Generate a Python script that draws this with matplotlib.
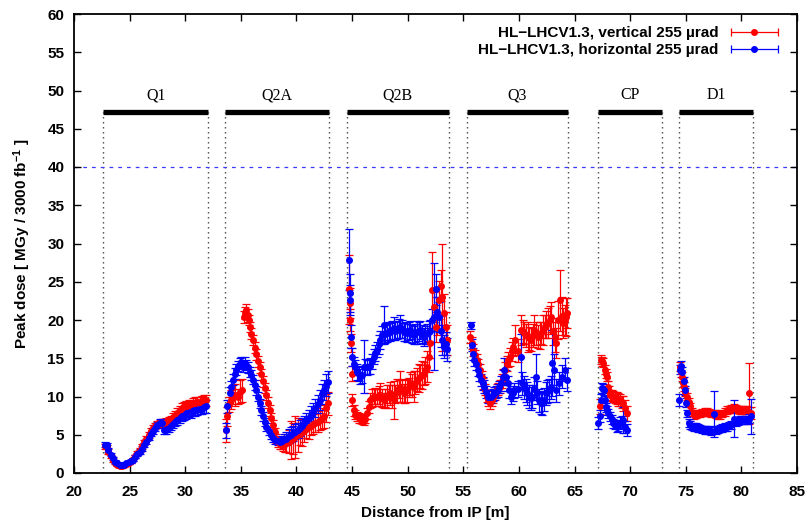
import matplotlib
matplotlib.use("Agg")
import matplotlib.pyplot as plt
from matplotlib.legend_handler import HandlerErrorbar
import numpy as np

plt.rcParams['font.family'] = ['Liberation Sans', 'DejaVu Sans']
plt.rcParams['font.weight'] = 'bold'
plt.rcParams['axes.labelweight'] = 'bold'
plt.rcParams['mathtext.fontset'] = 'custom'
plt.rcParams['mathtext.rm'] = 'Liberation Sans:bold'
plt.rcParams['mathtext.bf'] = 'Liberation Sans:bold'
plt.rcParams['mathtext.default'] = 'bf'

# ---------------- data ----------------
magnets = ["Q1", "Q2A", "Q2B", "Q3", "CP", "D1"]
mag_start = [22.65, 33.6, 44.5, 55.3, 67.15, 74.4]
mag_end = [32.05, 42.9, 53.7, 64.45, 72.9, 81.05]
mag_level = 47.2
dose_limit = 40

label_vert = "HL\u2212LHCV1.3, vertical 255 \u00b5rad"
label_horiz = "HL\u2212LHCV1.3, horizontal 255 \u00b5rad"

# vertical crossing (red)
vert_x = [
    # Q1
    22.8, 22.95, 23.1, 23.3, 23.5, 23.7, 23.9, 24.1, 24.3, 24.5, 24.7, 24.9, 25.1, 25.3, 25.5,
    25.7, 25.9, 26.1, 26.3, 26.5, 26.7, 26.9, 27.1, 27.3, 27.5, 27.7, 27.9, 28.1, 28.3, 28.5,
    28.7, 28.9, 29.1, 29.3, 29.5, 29.7, 29.9, 30.1, 30.3, 30.5, 30.7, 30.9, 31.1, 31.3, 31.5,
    31.7, 31.9,
    # Q2A
    33.65, 33.75, 33.9, 34.1, 34.3, 34.5, 34.7, 34.9, 35.1, 35.3, 35.4, 35.5, 35.6, 35.7, 35.8,
    35.95, 36.1, 36.25, 36.4, 36.55, 36.7, 36.85, 37.0, 37.15, 37.3, 37.45, 37.6, 37.75, 37.9,
    38.05, 38.2, 38.35, 38.5, 38.65, 38.8, 38.95, 39.1, 39.3, 39.5, 39.7, 39.9, 40.1, 40.3, 40.5,
    40.7, 40.9, 41.1, 41.3, 41.5, 41.7, 41.9, 42.1, 42.3, 42.5, 42.7, 42.85,
    # Q2B
    44.7, 44.78, 44.85, 44.9, 44.95, 45.0, 45.15, 45.3, 45.45, 45.6, 45.75, 45.9, 46.05, 46.2,
    46.35, 46.5, 46.65, 46.8, 46.95, 47.1, 47.25, 47.4, 47.55, 47.7, 47.85, 48.0, 48.15, 48.3,
    48.45, 48.6, 48.75, 48.9, 49.05, 49.2, 49.35, 49.5, 49.65, 49.8, 49.95, 50.1, 50.25, 50.4,
    50.55, 50.7, 50.85, 51.0, 51.15, 51.3, 51.45, 51.6, 51.75, 51.9, 52.05, 52.2, 52.35, 52.5,
    52.65, 52.8, 52.95, 53.1, 53.25, 53.4, 53.55,
    # Q3
    55.6, 55.75, 55.9, 56.05, 56.2, 56.35, 56.5, 56.65, 56.8, 56.95, 57.1, 57.25, 57.4, 57.55,
    57.7, 57.85, 58.0, 58.15, 58.3, 58.45, 58.6, 58.75, 58.9, 59.05, 59.2, 59.35, 59.5, 59.65,
    59.9, 60.2, 60.35, 60.5, 60.65, 60.8, 60.95, 61.1, 61.25, 61.4, 61.55, 61.7, 61.85, 62.0,
    62.15, 62.3, 62.45, 62.6, 62.75, 62.9, 63.05, 63.2, 63.35, 63.5, 63.7, 63.85, 64.0, 64.1,
    64.2, 64.35,
    # CP
    67.3, 67.4, 67.5, 67.6, 67.7, 67.8, 67.9, 68.0, 68.1, 68.2, 68.35, 68.5, 68.65, 68.8, 68.95,
    69.1, 69.25, 69.4, 69.55, 69.7,
    # D1
    74.45, 74.55, 74.65, 74.75, 74.85, 74.95, 75.1, 75.25, 75.4, 75.55, 75.7, 75.9, 76.1, 76.3,
    76.5, 76.7, 76.9, 77.1, 77.3, 77.5, 77.7, 77.9, 78.1, 78.3, 78.5, 78.7, 78.9, 79.1, 79.3,
    79.5, 79.7, 79.9, 80.1, 80.3, 80.5, 80.7, 80.9,
]
vert_y = [
    # Q1
    3.5, 3.4, 2.8, 2.2, 1.7, 1.35, 1.1, 0.95, 0.9, 1.0, 1.15, 1.35, 1.55, 1.8, 2.2,
    2.6, 3.0, 3.5, 4.0, 4.5, 5.0, 5.5, 5.9, 6.2, 6.4, 6.4, 6.5, 6.6, 6.7, 6.8,
    7.0, 7.3, 7.6, 7.9, 8.2, 8.5, 8.7, 8.8, 8.9, 9.0, 9.1, 9.2, 9.3, 9.3, 9.4,
    9.5, 9.5,
    # Q2A
    5.6, 7.4, 9.0, 9.6, 10.0, 10.2, 10.0, 10.6, 10.8, 20.4, 20.9, 21.3, 20.6, 20.0, 19.1,
    18.2, 17.4, 16.4, 15.5, 14.6, 13.8, 12.9, 12.0, 11.1, 10.2, 9.2, 8.2, 7.2, 6.3,
    5.3, 4.5, 4.0, 3.8, 3.7, 3.7, 3.8, 3.9, 4.1, 4.3, 4.5, 4.7, 5.0, 5.1, 5.3,
    5.5, 5.8, 6.0, 6.2, 6.4, 6.5, 6.7, 6.9, 7.1, 7.4, 8.5, 9.1,
    # Q2B
    24.0, 22.2, 20.0, 17.0, 13.0, 9.5, 8.2, 7.6, 7.4, 7.2, 7.1, 7.0, 6.9, 7.1,
    7.8, 8.6, 9.5, 9.8, 10.0, 9.9, 10.0, 10.2, 10.2, 9.8, 9.5, 9.8, 10.0, 10.3,
    10.4, 10.0, 9.5, 10.3, 10.8, 11.0, 11.3, 10.8, 10.4, 10.6, 10.8, 11.2, 11.7, 11.5,
    11.3, 11.8, 12.2, 12.4, 12.6, 12.8, 13.0, 13.4, 13.9, 15.2, 17.0, 23.9, 21.7, 19.1,
    20.5, 22.6, 24.5, 23.0, 20.9, 19.1, 17.4,
    # Q3
    17.8, 17.0, 16.1, 15.4, 14.8, 14.2, 13.5, 12.6, 11.7, 10.9, 10.0, 9.5, 9.1, 9.5,
    10.0, 10.4, 10.8, 11.0, 11.3, 12.0, 12.6, 13.5, 14.3, 14.8, 15.2, 15.9, 16.5, 17.4,
    16.0, 18.7, 18.5, 18.3, 18.0, 17.8, 17.6, 17.4, 18.0, 18.7, 18.2, 17.8, 18.0, 18.3,
    18.7, 19.1, 19.4, 19.6, 20.0, 20.4, 18.5, 17.8, 17.0, 20.0, 22.6, 20.5, 19.6, 20.0,
    20.4, 20.9,
    # CP
    8.7, 14.8, 14.6, 14.4, 13.5, 13.0, 12.6, 11.3, 10.7, 10.2, 10.1, 10.0, 9.9, 9.8, 9.6,
    9.5, 9.3, 9.1, 8.5, 7.8,
    # D1
    13.9, 13.2, 12.6, 11.8, 11.3, 10.6, 10.0, 9.3, 8.7, 8.0, 7.6, 7.7, 7.8, 7.8,
    7.9, 8.0, 8.0, 7.9, 7.8, 7.8, 7.7, 7.6, 7.6, 7.8, 8.0, 8.2, 8.3, 8.4, 8.5,
    8.4, 8.3, 8.2, 8.2, 8.2, 8.2, 10.4, 7.8,
]
vert_err = [
    # Q1
    0.3, 0.3, 0.3, 0.2, 0.2, 0.2, 0.2, 0.2, 0.2, 0.2, 0.2, 0.2, 0.2, 0.2, 0.2,
    0.3, 0.3, 0.3, 0.3, 0.3, 0.4, 0.4, 0.4, 0.4, 0.4, 0.5, 0.5, 0.5, 0.5, 0.5,
    0.5, 0.5, 0.5, 0.6, 0.6, 0.6, 0.6, 0.6, 0.6, 0.6, 0.7, 0.7, 0.7, 0.7, 0.7,
    0.7, 0.7,
    # Q2A
    1.5, 1.2, 1.0, 1.2, 1.0, 1.4, 1.0, 1.5, 1.5, 0.8, 0.8, 0.8, 0.8, 0.7, 0.7,
    0.7, 0.7, 0.7, 0.7, 0.7, 0.7, 0.7, 0.7, 0.7, 0.7, 0.7, 0.7, 0.6, 0.6,
    0.6, 0.6, 0.6, 0.6, 0.6, 0.8, 1.0, 1.2, 1.5, 2.5, 2.0, 2.8, 2.2, 1.5, 1.8,
    1.5, 1.2, 1.5, 1.2, 1.3, 1.2, 1.4, 1.3, 1.4, 1.5, 1.8, 1.5,
    # Q2B
    4.5, 2.0, 1.5, 1.2, 1.0, 0.8, 0.7, 0.6, 0.6, 0.6, 0.6, 0.6, 0.6, 0.6,
    0.7, 0.8, 1.0, 1.2, 1.0, 1.2, 1.0, 1.2, 1.5, 1.2, 1.0, 1.2, 1.5, 1.2,
    1.5, 1.5, 2.5, 1.2, 1.5, 1.2, 2.0, 1.5, 1.2, 1.5, 1.5, 1.2, 1.5, 1.5,
    2.0, 1.5, 1.5, 1.8, 1.5, 1.8, 1.5, 1.8, 2.0, 2.0, 2.0, 5.0, 2.0, 2.0,
    2.5, 2.5, 2.0, 7.0, 2.5, 2.0, 2.0,
    # Q3
    0.8, 0.8, 0.8, 0.7, 0.7, 0.7, 0.7, 0.7, 0.7, 0.7, 0.7, 0.7, 0.7, 0.7,
    0.8, 0.8, 0.8, 0.8, 0.9, 0.9, 1.0, 1.0, 1.0, 1.0, 1.2, 1.2, 1.2, 2.0,
    1.5, 2.0, 1.5, 1.5, 1.5, 2.0, 1.5, 1.5, 1.5, 2.0, 1.5, 1.5, 1.8, 1.5,
    2.0, 1.5, 1.8, 2.0, 1.8, 2.0, 1.8, 2.0, 2.0, 2.5, 4.0, 2.5, 2.0, 2.0,
    2.5, 2.0,
    # CP
    1.0, 0.6, 0.6, 0.6, 0.6, 0.6, 0.6, 0.7, 0.7, 0.7, 0.7, 0.7, 0.7, 0.8, 0.8,
    0.8, 0.8, 1.0, 1.0, 1.0,
    # D1
    0.6, 0.6, 0.6, 0.6, 0.6, 0.5, 0.5, 0.5, 0.5, 0.5, 0.5, 0.5, 0.5, 0.5,
    0.5, 0.5, 0.5, 0.5, 0.5, 0.5, 0.5, 0.5, 0.5, 0.5, 0.5, 0.5, 0.5, 0.5, 0.5,
    0.5, 0.5, 0.5, 0.5, 0.5, 0.5, 4.0, 0.8,
]

# horizontal crossing (blue)
horiz_x = [
    # Q1
    22.8, 22.95, 23.1, 23.3, 23.5, 23.7, 23.9, 24.1, 24.3, 24.5, 24.7, 24.9, 25.1, 25.3, 25.5,
    25.7, 25.9, 26.1, 26.3, 26.5, 26.7, 26.9, 27.1, 27.3, 27.5, 27.7, 27.9, 28.1, 28.3, 28.5,
    28.7, 28.9, 29.1, 29.3, 29.5, 29.7, 29.9, 30.1, 30.3, 30.5, 30.7, 30.9, 31.1, 31.3, 31.5,
    31.7, 31.9,
    # Q2A
    33.7, 33.8, 34.0, 34.15, 34.3, 34.45, 34.6, 34.75, 34.9, 35.05, 35.2, 35.35, 35.5, 35.65,
    35.8, 35.95, 36.1, 36.25, 36.4, 36.55, 36.7, 36.85, 37.0, 37.15, 37.3, 37.5, 37.7, 37.9,
    38.1, 38.3, 38.5, 38.7, 38.9, 39.1, 39.3, 39.5, 39.7, 39.9, 40.1, 40.3, 40.5, 40.7, 40.9,
    41.1, 41.3, 41.5, 41.7, 41.9, 42.1, 42.3, 42.5, 42.7, 42.85,
    # Q2B
    44.75, 44.8, 44.85, 44.9, 45.0, 45.15, 45.3, 45.45, 45.6, 45.75, 45.9, 46.05, 46.2, 46.35,
    46.5, 46.65, 46.8, 46.95, 47.1, 47.25, 47.4, 47.55, 47.7, 47.85, 48.0, 48.15, 48.3, 48.45,
    48.6, 48.75, 48.9, 49.05, 49.2, 49.35, 49.5, 49.65, 49.8, 49.95, 50.1, 50.25, 50.4, 50.55,
    50.7, 50.85, 51.0, 51.15, 51.3, 51.45, 51.6, 51.75, 51.9, 52.05, 52.2, 52.35, 52.5, 52.65,
    52.8, 52.95, 53.1, 53.25, 53.4, 53.55,
    # Q3
    55.7, 55.75, 55.9, 56.0, 56.15, 56.3, 56.45, 56.6, 56.75, 56.9, 57.05, 57.2, 57.35, 57.5,
    57.65, 57.8, 57.95, 58.1, 58.25, 58.4, 58.55, 58.7, 58.85, 59.0, 59.15, 59.3, 59.45, 59.6,
    59.9, 60.2, 60.3, 60.45, 60.6, 60.75, 60.9, 61.05, 61.2, 61.35, 61.5, 61.65, 61.8, 61.95,
    62.1, 62.25, 62.4, 62.55, 62.7, 62.85, 63.0, 63.15, 63.3, 63.6, 63.9, 64.1, 64.3,
    # CP
    67.15, 67.25, 67.35, 67.45, 67.55, 67.65, 67.75, 67.85, 67.95, 68.05, 68.2, 68.35, 68.5,
    68.65, 68.8, 68.95, 69.1, 69.25, 69.4, 69.55, 69.7,
    # D1
    74.4, 74.5, 74.6, 74.7, 74.8, 74.9, 75.0, 75.1, 75.25, 75.4, 75.55, 75.7, 75.9, 76.1,
    76.3, 76.5, 76.7, 76.9, 77.1, 77.3, 77.55, 77.7, 77.9, 78.1, 78.3, 78.5, 78.7, 78.9,
    79.1, 79.35, 79.5, 79.7, 79.9, 80.1, 80.3, 80.5, 80.7, 80.9,
]
horiz_y = [
    # Q1
    3.7, 3.6, 3.0, 2.4, 1.9, 1.5, 1.25, 1.05, 1.0, 1.1, 1.25, 1.4, 1.55, 1.75, 2.1,
    2.45, 2.8, 3.2, 3.65, 4.1, 4.6, 5.1, 5.5, 5.9, 6.3, 6.6, 6.5, 5.6, 5.6, 5.9,
    6.1, 6.4, 6.7, 6.9, 7.2, 7.4, 7.5, 7.7, 7.9, 7.9, 8.1, 8.2, 8.3, 8.4, 8.4,
    8.6, 8.7,
    # Q2A
    5.6, 8.7, 10.4, 11.3, 12.2, 13.0, 13.5, 14.0, 14.3, 14.5, 13.9, 14.4, 14.1, 13.8,
    13.2, 12.8, 12.2, 11.5, 10.8, 10.0, 9.1, 8.2, 7.4, 6.7, 6.05, 5.5, 5.0, 4.6,
    4.3, 4.2, 4.1, 4.2, 4.4, 4.5, 4.8, 5.0, 5.2, 5.4, 5.6, 5.9, 6.2, 6.5, 6.9,
    7.2, 7.6, 8.0, 8.5, 9.0, 9.6, 10.3, 10.9, 11.5, 11.9,
    # Q2B
    27.9, 23.5, 22.6, 17.8, 15.2, 14.2, 13.8, 13.2, 13.0, 12.6, 12.8, 13.9, 13.9, 13.8,
    13.9, 14.0, 14.6, 15.2, 15.7, 16.1, 16.8, 17.4, 18.0, 19.3, 18.2, 18.3, 18.6, 18.4,
    18.7, 18.9, 18.6, 18.7, 18.9, 19.1, 18.8, 18.4, 18.5, 18.3, 18.6, 18.7, 18.2, 18.0,
    18.3, 18.4, 18.5, 18.7, 18.2, 17.8, 18.0, 18.3, 18.4, 18.5, 20.0, 20.4, 24.0, 21.0,
    20.4, 18.5, 17.4, 16.5, 16.9, 16.2,
    # Q3
    19.3, 16.7, 15.6, 14.8, 14.2, 13.5, 12.8, 12.2, 11.7, 11.3, 10.6, 10.0, 10.0, 10.0,
    10.2, 10.4, 10.6, 10.8, 11.2, 11.7, 12.5, 13.5, 12.5, 11.7, 10.8, 10.0, 10.4, 10.8,
    11.0, 15.2, 11.7, 11.2, 10.8, 10.4, 10.0, 9.8, 10.0, 11.0, 12.6, 10.5, 9.5, 9.2,
    9.1, 9.6, 10.4, 10.6, 10.8, 11.2, 14.4, 13.5, 10.8, 11.7, 12.6, 13.5, 12.2,
    # CP
    6.5, 7.5, 9.5, 11.1, 11.0, 10.8, 9.5, 8.6, 8.2, 7.8, 7.4, 7.0, 6.5,
    6.3, 6.05, 6.2, 6.5, 6.7, 6.9, 6.0, 5.6,
    # D1
    9.5, 13.5, 14.0, 13.2, 12.0, 10.8, 9.2, 7.8, 6.5, 6.3, 6.1, 6.05, 6.0, 5.9,
    5.8, 5.7, 5.6, 5.6, 5.6, 5.5, 7.7, 5.6, 5.7, 5.8, 5.9, 6.0, 6.05, 6.2,
    6.3, 7.1, 6.6, 6.8, 6.9, 6.9, 6.9, 6.9, 7.1, 7.4,
]
horiz_err = [
    # Q1
    0.3, 0.3, 0.3, 0.2, 0.2, 0.2, 0.2, 0.2, 0.2, 0.2, 0.2, 0.2, 0.2, 0.2, 0.2,
    0.2, 0.3, 0.3, 0.3, 0.3, 0.3, 0.3, 0.4, 0.4, 0.4, 0.5, 0.5, 0.5, 0.5, 0.5,
    0.5, 0.5, 0.5, 0.6, 0.6, 0.6, 0.6, 0.6, 0.6, 0.7, 0.7, 0.7, 0.7, 0.7, 0.7,
    0.7, 0.8,
    # Q2A
    1.0, 0.8, 0.8, 0.7, 0.7, 0.7, 0.7, 0.7, 0.7, 0.7, 0.7, 0.7, 0.7, 0.7,
    0.6, 0.6, 0.6, 0.6, 0.6, 0.6, 0.6, 0.6, 0.6, 0.5, 0.5, 0.5, 0.5, 0.5,
    0.5, 0.5, 0.5, 0.6, 0.7, 0.8, 0.9, 1.0, 1.0, 1.0, 1.0, 1.0, 1.0, 1.0, 1.0,
    1.1, 1.1, 1.2, 1.2, 1.2, 1.3, 1.3, 1.3, 1.4, 1.4,
    # Q2B
    4.0, 2.5, 2.0, 1.5, 1.2, 1.0, 1.0, 1.0, 1.0, 1.0, 1.0, 3.5, 1.0, 1.0,
    1.0, 1.0, 1.0, 1.0, 1.0, 1.0, 1.2, 1.2, 1.2, 2.5, 1.2, 1.2, 1.2, 1.2,
    1.2, 1.5, 1.2, 1.2, 1.2, 1.5, 1.2, 1.2, 1.2, 1.2, 1.2, 1.2, 1.2, 1.2,
    1.2, 1.5, 1.2, 1.2, 1.2, 1.2, 1.2, 1.2, 1.5, 1.5, 1.5, 7.0, 2.0, 2.0,
    2.0, 2.0, 2.0, 1.5, 1.5, 1.5,
    # Q3
    0.5, 0.8, 0.8, 0.8, 0.8, 0.8, 0.8, 0.8, 0.8, 0.8, 0.8, 0.8, 0.8, 0.8,
    0.8, 0.8, 0.8, 0.8, 0.8, 1.0, 1.0, 1.5, 1.0, 1.0, 1.0, 1.0, 1.0, 1.0,
    1.0, 3.0, 1.5, 1.5, 1.5, 1.5, 1.5, 1.5, 1.5, 1.5, 3.0, 1.5, 1.5, 1.5,
    1.5, 1.5, 1.5, 1.5, 1.5, 1.5, 4.3, 2.0, 1.5, 1.5, 1.5, 1.5, 1.5,
    # CP
    0.8, 0.8, 0.8, 0.6, 0.6, 0.6, 0.6, 0.6, 0.6, 0.6, 0.6, 0.6, 0.6,
    0.6, 0.7, 0.7, 0.8, 0.8, 1.7, 0.8, 0.8,
    # D1
    0.8, 0.6, 0.6, 0.6, 0.6, 0.6, 0.6, 0.5, 0.5, 0.5, 0.5, 0.5, 0.5, 0.5,
    0.5, 0.5, 0.5, 0.5, 0.5, 0.5, 3.0, 0.5, 0.5, 0.5, 0.5, 0.5, 0.5, 0.5,
    0.5, 2.4, 0.5, 0.5, 0.5, 0.5, 0.5, 0.5, 0.6, 2.3,
]

x_ticks = list(range(20, 86, 5))
y_ticks = list(range(0, 61, 5))

# ---------------- figure ----------------
W, H = 810, 523
fig = plt.figure(figsize=(W / 100, H / 100), dpi=100)
ax = fig.add_axes([74 / W, 1 - 473 / H, (797 - 74) / W, (473 - 14) / H])

# magnet extents
for s, e, name in zip(mag_start, mag_end, magnets):
    ax.plot([s, e], [mag_level, mag_level], color='black', lw=3.8, solid_capstyle='butt', zorder=3)
    ax.text((s + e) / 2, mag_level + 2.2, name, ha='center', va='center',
            family=['Liberation Serif', 'DejaVu Serif'], fontweight='normal', fontsize=11.5)
ax.vlines(mag_start + mag_end, 0, mag_level, colors='#444444', linestyles=(0, (1, 2.6)), lw=1.0, zorder=1)

# limit
ax.axhline(dose_limit, color='#3a3aff', lw=0.9, ls=(0, (3, 4)), zorder=1)

ekw = dict(fmt='o', ms=4.0, capsize=2.8, elinewidth=0.9, capthick=0.9, zorder=4)
ax.errorbar(vert_x, vert_y, yerr=vert_err, color='#ff0000', ecolor='#ff0000', **ekw)
ax.errorbar(horiz_x, horiz_y, yerr=horiz_err, color='#0000ff', ecolor='#0000ff', **ekw)

# legend proxies (horizontal error-bar sample as in the original)
pv = ax.errorbar([np.nan], [np.nan], xerr=[1], color='#ff0000', **ekw)
ph = ax.errorbar([np.nan], [np.nan], xerr=[1], color='#0000ff', **ekw)
fs = 11
leg = ax.legend([pv, ph], [label_vert, label_horiz], loc='upper right',
                bbox_to_anchor=(1 - 19 / 723, 1 - 12 / 459), borderaxespad=0, borderpad=0,
                frameon=False, markerfirst=False, handlelength=3.1, handletextpad=0.8,
                labelspacing=0.2, fontsize=fs,
                handler_map={type(pv): HandlerErrorbar(xerr_size=1.55, numpoints=1)})

ax.set_xlim(20, 85)
ax.set_ylim(0, 60)
ax.set_xticks(x_ticks)
ax.set_yticks(y_ticks)
ax.tick_params(direction='in', top=True, right=True, length=5, width=1.0, labelsize=11)
ax.tick_params(axis='x', pad=8.5)
ax.tick_params(axis='y', pad=7)
for sp in ax.spines.values():
    sp.set_linewidth(1.3)

ax.set_xlabel('Distance from IP [m]', fontsize=11, labelpad=5)
ax.set_ylabel(r'Peak dose [ MGy / 3000 fb$^{-1}$ ]', fontsize=11, labelpad=10)

fig.savefig('out.png', dpi=100)
